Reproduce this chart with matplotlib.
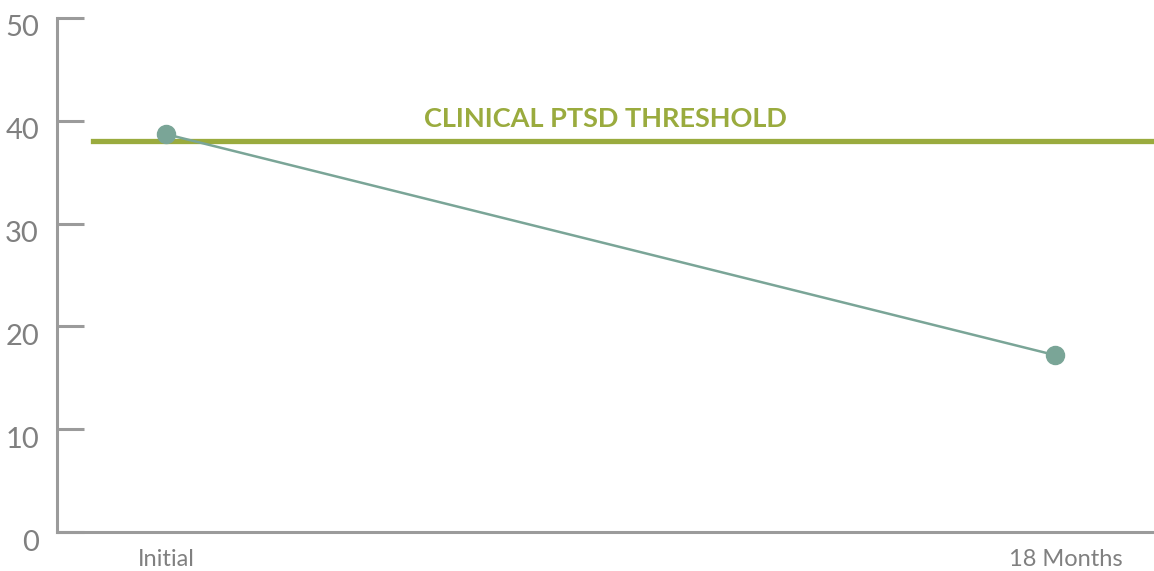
import matplotlib
matplotlib.use("Agg")
import matplotlib.pyplot as plt
from matplotlib.transforms import ScaledTranslation

# Données
periodes = ["Initial", "18 Months"]
scores = [38.7, 17.2]
seuil_ptsd = 38.0
label_seuil = "CLINICAL PTSD THRESHOLD"
yticks = [0, 10, 20, 30, 40, 50]

gris = "#9b9b9b"
texte_gris = "#808080"
vert = "#9aab3e"
serie = "#7aa597"

plt.rcParams["font.family"] = ["Lato", "DejaVu Sans"]

fig = plt.figure(figsize=(11.54, 5.71), dpi=100)
ax = fig.add_axes([0.0494, 0.0683, 0.9506, 0.9002])

x = list(range(len(periodes)))

# Ligne de seuil
ax.axhline(seuil_ptsd, xmin=0.033, xmax=1.0, color=vert, linewidth=3.8, zorder=2)
ax.text(0.494, seuil_ptsd + 2.2, label_seuil, color=vert, fontsize=19.5, fontweight="bold",
        ha="center", va="center")

# Série
ax.plot(x, scores, color=serie, linewidth=1.8, marker="o", markersize=13, zorder=3)

ax.set_xlim(-0.1226, 1.111)
ax.set_ylim(0, 50)

ax.set_yticks(yticks)
ax.set_xticks(x)
ax.set_xticklabels(periodes)

for s in ["top", "right"]:
    ax.spines[s].set_visible(False)
for s in ["left", "bottom"]:
    ax.spines[s].set_color(gris)
    ax.spines[s].set_linewidth(2.2)

ax.tick_params(axis="y", direction="in", length=19.5, width=2.2, color=gris,
               labelsize=21, labelcolor=texte_gris, pad=13)
ax.tick_params(axis="x", length=0, labelsize=17, labelcolor=texte_gris, pad=12)

# petits décalages des étiquettes comme dans l'original
decal_y = ScaledTranslation(0, -0.08, fig.dpi_scale_trans)
for lab in ax.get_yticklabels():
    lab.set_transform(lab.get_transform() + decal_y)
decal_x = ScaledTranslation(0.11, 0, fig.dpi_scale_trans)
lab = ax.get_xticklabels()[1]
lab.set_transform(lab.get_transform() + decal_x)

fig.savefig("out.png", dpi=100)
